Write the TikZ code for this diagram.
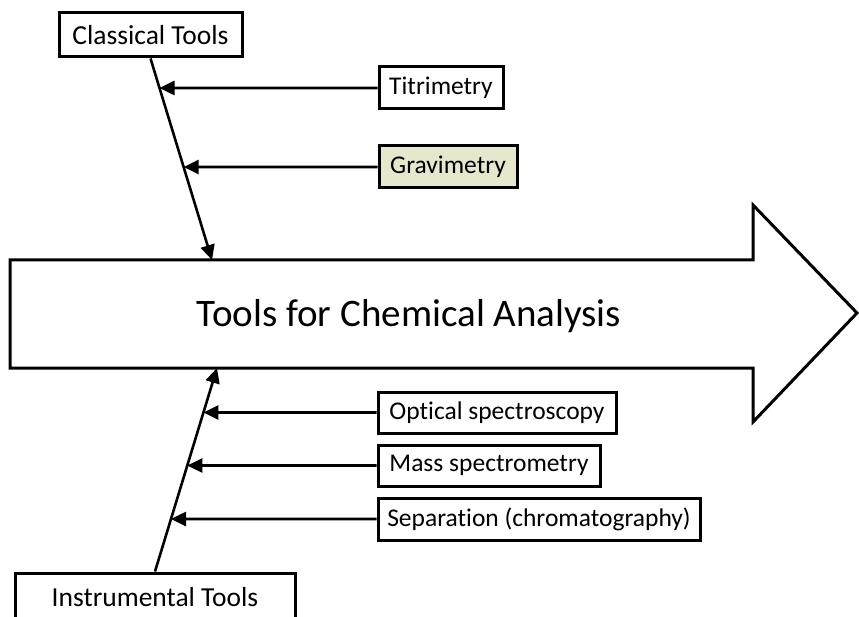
\documentclass[tikz,border=0pt]{standalone}
\usepackage{fontspec}
\setmainfont{Carlito}[Ligatures=NoCommon]
\usetikzlibrary{arrows.meta}
\definecolor{gravfill}{RGB}{230,231,204}
\tikzset{
  box/.style={draw=black, line width=3pt, fill=white, inner sep=0pt,
              font=\fontsize{25.5}{30}\selectfont, anchor=center},
  catbox/.style={box, font=\fontsize{27.5}{32}\selectfont},
  conn/.style={draw=black, line width=2.6pt,
               -{Triangle[length=15pt,width=14pt]}},
}
\begin{document}
\begin{tikzpicture}[x=1pt,y=-1pt]
\useasboundingbox (0,0) rectangle (859,617);

% main arrow body
\draw[line width=3pt, line join=miter, fill=white]
  (10,260) -- (753,260) -- (753,205) -- (857,313) -- (753,422) -- (753,368) -- (10,368) -- cycle;
\node (main) at (409,316) {\fontsize{39}{44}\selectfont Tools for Chemical Analysis};
\coordinate (ctop) at (212,260);
\coordinate (cbot) at (217,368);

% classical branch
\node[catbox, minimum width=183pt, minimum height=44pt] (classical) at (150.5,35) {Classical Tools};
\node[box, minimum width=124pt, minimum height=42pt] (titr) at (441,88) {Titrimetry};
\node[box, fill=gravfill, minimum width=138pt, minimum height=42pt] (grav) at (448,167) {Gravimetry};

\draw[conn] (classical.south) -- (ctop);
\draw[conn] (titr.west) -- (intersection of titr.west--titr.east and classical.south--ctop);
\draw[conn] (grav.west) -- (intersection of grav.west--grav.east and classical.south--ctop);

% instrumental branch
\node[catbox, minimum width=280pt, minimum height=48pt] (instr) at (155,597) {Instrumental Tools};
\node[box, minimum width=238pt, minimum height=41pt] (optical) at (497,412.5) {Optical spectroscopy};
\node[box, minimum width=222pt, minimum height=41pt] (mass) at (489,465.5) {Mass spectrometry};
\node[box, minimum width=322pt, minimum height=42pt] (sep) at (539,519) {Separation (chromatography)};

\draw[conn] (instr.north) -- (cbot);
\draw[conn] (optical.west) -- (intersection of optical.west--optical.east and instr.north--cbot);
\draw[conn] (mass.west) -- (intersection of mass.west--mass.east and instr.north--cbot);
\draw[conn] (sep.west) -- (intersection of sep.west--sep.east and instr.north--cbot);
\end{tikzpicture}
\end{document}
